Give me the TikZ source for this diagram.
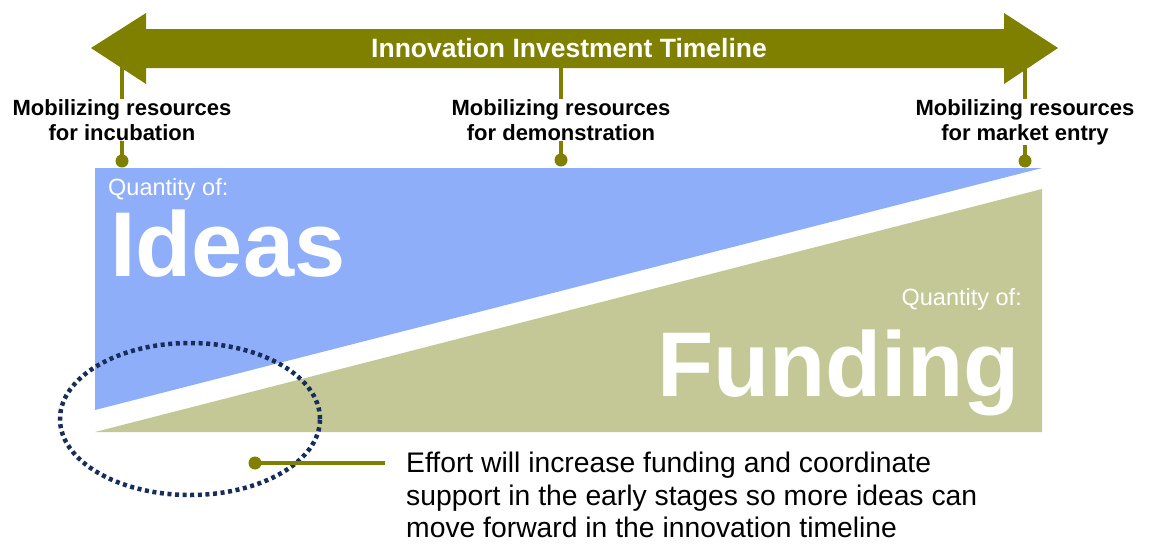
\documentclass[tikz,border=0pt]{standalone}
\usepackage{fontspec}
\setmainfont{Liberation Sans}
\usetikzlibrary{shapes.geometric}
\definecolor{olive}{RGB}{128,128,0}
\definecolor{ideablue}{RGB}{143,174,250}
\definecolor{fundolive}{RGB}{196,200,150}
\definecolor{navy}{RGB}{23,45,90}
\begin{document}
\begin{tikzpicture}[x=1pt,y=-1pt,
  lbl/.style={font=\fontsize{22}{25.5}\selectfont\bfseries, align=center, inner sep=0pt},
  tick/.style={draw=olive, line width=4pt},
  pin/.style={fill=olive},
  qty/.style={font=\fontsize{23.5}{26}\selectfont, text=white, inner sep=0pt},
  big/.style={font=\fontsize{92}{100}\selectfont\bfseries, text=white, inner sep=0pt}]
\useasboundingbox (0,0) rectangle (1151,544);
% regions
\fill[ideablue] (95,168) -- (1042,168) -- (95,410) -- cycle;
\fill[fundolive] (95,432) -- (1042,189) -- (1042,432) -- cycle;
% ticks (behind arrow)
\coordinate (t1) at (122,60);
\coordinate (t2) at (561,60);
\coordinate (t3) at (1025,60);
\node[lbl, anchor=north] (l1) at (122,99) {Mobilizing resources\\for incubation};
\node[lbl, anchor=north] (l2) at (561,99) {Mobilizing resources\\for demonstration};
\node[lbl, anchor=north] (l3) at (1025,99) {Mobilizing resources\\for market entry};
\draw[tick] (t1) -- (l1.north -| t1);
\draw[tick] (t2) -- (l2.north -| t2);
\draw[tick] (t3) -- (l3.north -| t3);
\coordinate (d1) at (122,161);
\coordinate (d2) at (561,160);
\coordinate (d3) at (1025,161);
\draw[tick] (l1.south -| d1) -- (d1);
\draw[tick] (l2.south -| d2) -- (d2);
\draw[tick] (l3.south -| d3) -- (d3);
\fill[pin] (d1) circle (6.5);
\fill[pin] (d2) circle (6.5);
\fill[pin] (d3) circle (6.5);
% timeline arrow
\fill[olive] (91,48) -- (146,13) -- (146,29) -- (1004,29) -- (1004,13) -- (1058,48)
  -- (1004,84) -- (1004,68) -- (146,68) -- (146,84) -- cycle;
\node[font=\fontsize{26.5}{30}\selectfont\bfseries, text=white, inner sep=0pt] (title) at (569,48) {Innovation Investment Timeline};
% texts in regions
\node[qty, anchor=base west] (q1) at (108,195) {Quantity of:};
\node[big, anchor=base west] (ideas) at (110,276) {Ideas};
\node[qty, anchor=base east] (q2) at (1022,305) {Quantity of:};
\node[big, anchor=base east] (funding) at (1020,396) {Funding};
% ellipse
\node[draw=navy, line width=4.5pt, dash pattern=on 4pt off 3.6pt, ellipse, minimum width=260pt, minimum height=152pt, inner sep=0pt] (focus) at (190,419) {};
% callout
\node[font=\fontsize{28.3}{32.5}\selectfont, align=left, anchor=north west, inner sep=0pt] (note) at (406,452)
  {Effort will increase funding and coordinate\\support in the early stages so more ideas can\\move forward in the innovation timeline};
\coordinate (cd) at (255,463);
\draw[draw=olive, line width=4pt] (cd) -- (385,463);
\fill[pin] (cd) circle (6.5);
\end{tikzpicture}
\end{document}
